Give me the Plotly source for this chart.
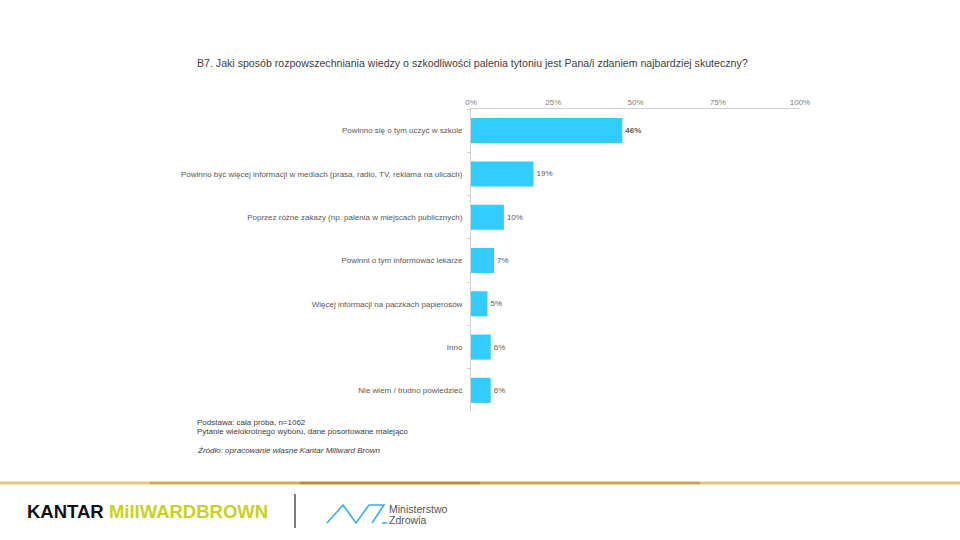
import plotly.graph_objects as go

categories = [
    "Powinno się o tym uczyć w szkole",
    "Powinno być więcej informacji w mediach (prasa, radio, TV, reklama na ulicach)",
    "Poprzez różne zakazy (np. palenia w miejscach publicznych)",
    "Powinni o tym informować lekarze",
    "Więcej informacji na paczkach papierosów",
    "Inno",
    "Nie wiem / trudno powiedzieć",
]
values = [46, 19, 10, 7, 5, 6, 6]
value_labels = ["<b>46%</b>", "19%", "10%", "7%", "5%", "6%", "6%"]
x_ticks = [0, 25, 50, 75, 100]
x_tick_labels = ["0%", "25%", "50%", "75%", "100%"]

title_text = "B7. Jaki sposób rozpowszechniania wiedzy o szkodliwości palenia tytoniu jest Pana/i zdaniem najbardziej skuteczny?"
notes = [
    "Podstawa: cała próba, n=1062",
    "Pytanie wielokrotnego wyboru, dane posortowane malejąco",
]
source = "<i>Źródło: opracowanie własne Kantar Millward Brown</i>"

FONT = "Liberation Sans, Arial, sans-serif"
L, R, T, B = 471, 160, 109, 128

fig = go.Figure()
fig.add_trace(go.Bar(
    x=values, y=categories, orientation="h",
    marker=dict(color="#33ccff", line=dict(width=0)),
    width=0.58,
    text=value_labels, textposition="outside", cliponaxis=False,
    textfont=dict(size=8, color="#595959", family=FONT),
    hoverinfo="skip",
))

fig.update_layout(
    width=960, height=540,
    margin=dict(l=L, r=R, t=T, b=B),
    paper_bgcolor="white", plot_bgcolor="white",
    showlegend=False,
    font=dict(family=FONT, color="#595959"),
    xaxis=dict(
        side="top", range=[0, 100], tickvals=x_ticks, ticktext=x_tick_labels,
        showgrid=False, zeroline=False, showline=True, linecolor="#d0d0d0", linewidth=1,
        ticks="", tickfont=dict(size=8, color="#808080"), fixedrange=True,
    ),
    yaxis=dict(
        type="category", autorange="reversed",
        showgrid=False, zeroline=False, showline=True, linecolor="#d0d0d0", linewidth=1,
        ticks="outside", ticklen=3, tickcolor="#d0d0d0", tickson="boundaries",
        tickfont=dict(size=8, color="#595959"), ticklabelstandoff=6, fixedrange=True,
    ),
)


def px(x, y):
    # convert pixel coords into paper coords
    return (x - L) / (960 - L - R), (540 - B - y) / (540 - B - T)


annos = []
xx, yy = px(195, 63)
annos.append(dict(x=xx, y=yy, text=title_text, size=10.6, color="#404040"))
for i, t in enumerate(notes):
    xx, yy = px(195, 422 + i * 9)
    annos.append(dict(x=xx, y=yy, text=t, size=8, color="#404040"))
xx, yy = px(195, 450)
annos.append(dict(x=xx, y=yy, text=source, size=8, color="#404040"))
xx, yy = px(387, 509)
annos.append(dict(x=xx, y=yy, text="Ministerstwo", size=10.5, color="#555555"))
xx, yy = px(387, 520)
annos.append(dict(x=xx, y=yy, text="Zdrowia", size=10.5, color="#555555"))
for a in annos:
    fig.add_annotation(x=a["x"], y=a["y"], xref="paper", yref="paper", text=a["text"], showarrow=False,
                       xanchor="left", yanchor="middle",
                       font=dict(size=a["size"], color=a["color"], family=FONT))

xx, yy = px(25, 511)
fig.add_annotation(x=xx, y=yy, xref="paper", yref="paper", showarrow=False, xanchor="left", yanchor="middle",
                   text="<b>KANTAR</b> <b><span style='color:#c6d21f'>MillWARDBROWN</span></b>",
                   font=dict(size=18.5, color="#111111", family=FONT))

# gold rule
segs = [(0, 150, "#e3c77a"), (150, 300, "#d2ad4e"), (300, 480, "#b8902c"), (480, 700, "#caa64a"), (700, 960, "#e0c676")]
for x0, x1, c in segs:
    fig.add_shape(type="rect", xref="paper", yref="paper",
                  x0=px(x0, 0)[0], x1=px(x1, 0)[0], y0=px(0, 484.5)[1], y1=px(0, 481.5)[1],
                  fillcolor=c, line=dict(width=0), layer="above")

# divider
fig.add_shape(type="line", xref="paper", yref="paper",
              x0=px(295, 0)[0], x1=px(295, 0)[0], y0=px(0, 494)[1], y1=px(0, 528)[1],
              line=dict(color="#222222", width=1.2))

# ministry zigzag logo
pts = [(327, 523), (343, 505), (356, 523), (369, 505), (384, 505), (372, 523)]
path = "M " + " L ".join(f"{px(x, y)[0]:.5f},{px(x, y)[1]:.5f}" for x, y in pts)
fig.add_shape(type="path", xref="paper", yref="paper", path=path, line=dict(color="#3aaee0", width=1.6))
fig.add_shape(type="line", xref="paper", yref="paper",
              x0=px(382, 0)[0], x1=px(387, 0)[0], y0=px(0, 523)[1], y1=px(0, 523)[1],
              line=dict(color="#3aaee0", width=1.6))

fig.write_html("out.html", config={"displayModeBar": False},
               post_script="document.body.style.margin='0';document.body.style.overflow='hidden';")
